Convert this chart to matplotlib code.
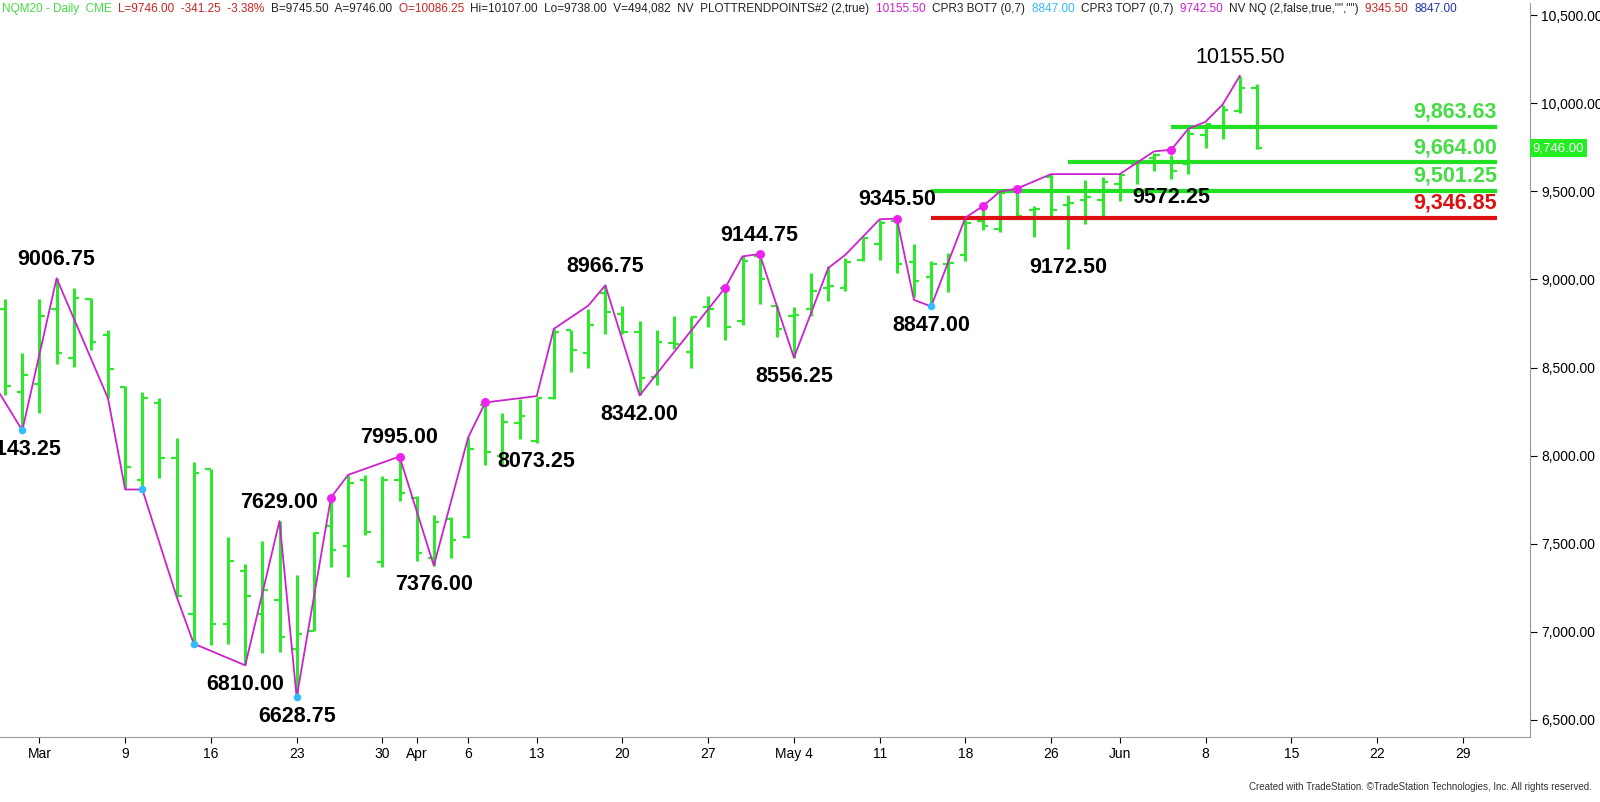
import matplotlib
matplotlib.use("Agg")
import matplotlib.pyplot as plt
import numpy as np
plt.rcParams['font.family'] = ['Liberation Sans', 'DejaVu Sans']

dates = ["Feb27","Feb28","Mar2","Mar3","Mar4","Mar5","Mar6","Mar9","Mar10","Mar11","Mar12","Mar13",
 "Mar16","Mar17","Mar18","Mar19","Mar20","Mar23","Mar24","Mar25","Mar26","Mar27","Mar30","Mar31",
 "Apr1","Apr2","Apr3","Apr6","Apr7","Apr8","Apr9","Apr13","Apr14","Apr15","Apr16","Apr17","Apr20",
 "Apr21","Apr22","Apr23","Apr24","Apr27","Apr28","Apr29","Apr30","May1","May4","May5","May6","May7",
 "May8","May11","May12","May13","May14","May15","May18","May19","May20","May21","May22","May26",
 "May27","May28","May29","Jun1","Jun2","Jun3","Jun4","Jun5","Jun8","Jun9","Jun10","Jun11"]
opens = [8832,8361,8408,8832,8555,8887,8684,8389,7864,8301,7984,7099,7923,7043,7348,7100,7182,6900,7007,7600,
 7486,7864,7394,7864,7762,7421,7640,7541,8290,8000,8188,8085,8328,8711,8580,8925,8804,8702,8449,8640,8590,
 8842,8954,8767,9131,8851,8795,8832,8954,8954,9112,9200,9333,9100,9012,9085,9140,9333,9287,9507,9397,9580,
 9424,9452,9452,9543,9653,9690,9736,9653,9818,9873,9956,10086.25]
highs = [8887,8583,8887,9006.75,8951,8896,8712,8395,8361,8328,8100,7965,7923,7541,7385,7514,7629,7320,7569,7762,
 7891,7891,7882,7995,7772,7661,7652,8104,8302,8244,8319,8328,8720,8711,8832,8966.75,8851,8767,8711,8795,8786,
 8907,8954,9131,9144.75,8851,8842,9038,9075,9121,9234,9335,9345.5,9204,9104,9149,9342,9415,9498,9516,9415,9598,
 9479,9562,9580,9598,9672,9718,9709,9855,9883,9993,10155.5,10107]
lows = [8343,8143.25,8242,8518,8505,8601,8325,7808,7808,7873,7200,6933,6924,6933,6810,6878,6887,6628.75,7007,7366,
 7311,7550,7366,7744,7403,7376,7421,7535,7945,7945,8095,8073.25,8319,8477,8496,8692,8692,8342,8403,8608,8496,
 8729,8655,8739,8860,8673,8556.25,8795,8879,8935,9103,9113,9039,8902,8847,8929,9104,9278,9269,9351,9241,9360,
 9172.5,9314,9360,9443,9543,9617,9572.25,9598,9745,9800,9947,9738]
closes = [8395,8457,8795,8583,8896,8644,8491,7937,8325,7989,7204,7901,7043,7403,7204,7237,6970,6990,7560,7467,
 7845,7569,7864,7790,7449,7624,7520,8039,8020,8190,8225,8328,8702,8599,8739,8814,8700,8440,8645,8635,8786,
 8832,8729,9103,9000,8720,8800,8935,8963,9100,9234,9320,9085,8994,9085,9094,9323,9305,9489,9360,9400,9397,
 9433,9470,9553,9595,9663,9709,9617,9828,9880,9960,10084,9746]

# trend (zigzag) points: (bar index, price)
zz_idx = [-0.3,1,3,6,7,8,10,11,14,16,17,19,20,23,25,27,28,31,32,34,35,37,42,43,44,46,48,49,51,52,53,54,56,57,58,59,61,65,67,68,69,70,71,72]
zz_val = [8350,8143.25,9006.75,8325,7808,7808,7200,6933,6810,7629,6628.75,7762,7891,7995,7376,8103,8302,8338,8720,8851,8966.75,
 8342,8954,9131,9144.75,8556.25,9065,9140,9342,9345.5,8884,8847,9351,9415,9498,9516,9598,9598,9727,9736,9855,9895,9993,10155.5]
mag_dots = [19,23,28,42,44,52,57,59,68]
cyan_dots = [1,8,11,17,54]

lab_idx = [1,3,14,16,17,23,25,31,35,37,44,46,52,54,62,68,72]
lab_val = [8143.25,9006.75,6810,7629,6628.75,7995,7376,8073.25,8966.75,8342,9144.75,8556.25,9345.5,8847,9172.5,9572.25,10155.5]
lab_txt = ["8143.25","9006.75","6810.00","7629.00","6628.75","7995.00","7376.00","8073.25","8966.75","8342.00",
           "9144.75","8556.25","9345.50","8847.00","9172.50","9572.25","10155.50"]
lab_up = [False,True,False,True,False,True,False,False,True,False,True,False,True,False,False,False,True]

levels = [9863.63,9664.00,9501.25,9346.85]
level_start = [68,62,54,54]
level_color = ["#22e022","#22e022","#22e022","#dd1111"]
level_txt_color = ["#44dd44","#44dd44","#44dd44","#dd1111"]

tick_pos = [2,7,12,17,22,24,27,31,36,41,46,51,56,61,65,70,75,80,85]
tick_lab = ["Mar","9","16","23","30","Apr","6","13","20","27","May 4","11","18","26","Jun","8","15","22","29"]
ytick = [6500,7000,7500,8000,8500,9000,9500,10000,10500]

fig = plt.figure(figsize=(16,8.02), dpi=100)
ax = fig.add_axes([0, 0.081, 0.956, 0.915])
x = np.arange(len(dates))
green = "#2ee82e"
ax.vlines(x, lows, highs, color=green, lw=2.2, zorder=2)
ax.hlines(opens, x-0.32, x, color=green, lw=1.6, zorder=2)
ax.hlines(closes, x, x+0.32, color=green, lw=1.6, zorder=2)

for lv, st, c, tc in zip(levels, level_start, level_color, level_txt_color):
    ax.hlines(lv, st, 87, color=c, lw=3, zorder=3)
    ax.text(87, lv+25, f"{lv:,.2f}", color=tc, fontsize=15.5, fontweight="bold", ha="right", va="bottom", zorder=4)

ax.plot(zz_idx, zz_val, color="#cc22cc", lw=1.3, zorder=4)
ax.scatter(mag_dots, [zz_val[zz_idx.index(i)] for i in mag_dots], s=30, color="#ee22ee", zorder=5)
ax.scatter(cyan_dots, [zz_val[zz_idx.index(i)] for i in cyan_dots], s=20, color="#33bbff", zorder=5)

for i, v, t, up in zip(lab_idx, lab_val, lab_txt, lab_up):
    w = "normal" if t == "10155.50" else "bold"
    ax.annotate(t, (i, v), xytext=(0, 6 if up else -6), textcoords="offset points",
                ha="center", va="bottom" if up else "top", fontsize=15.5, fontweight=w, zorder=6)

ax.set_xlim(-0.3, 88.9)
ax.set_ylim(6403, 10568)
ax.set_xticks(tick_pos)
ax.set_xticklabels(tick_lab, fontsize=10)
ax.tick_params(axis="x", length=4, direction="out")
ax.yaxis.tick_right()
ax.set_yticks(ytick)
ax.set_yticklabels([f"{v:,.2f}" for v in ytick], fontsize=10)
ax.tick_params(axis="y", length=5, direction="out")
for s in ["top","left"]:
    ax.spines[s].set_visible(False)
ax.spines["right"].set_color("#999999")
ax.spines["bottom"].set_color("#999999")

last = closes[-1]
ax.annotate(f"{last:,.2f}", xy=(1.0, last), xycoords=("axes fraction","data"), xytext=(2,0),
            textcoords="offset points", va="center", ha="left", fontsize=9.5, color="white",
            bbox=dict(boxstyle="square,pad=0.2", fc="#22ee22", ec="none"), annotation_clip=False)

segs = [("NQM20 - Daily  CME  ", "#44dd44"), ("L=9746.00  -341.25  -3.38%  ", "#cc2222"),
        ("B=9745.50  A=9746.00  ", "#222222"), ("O=10086.25  ", "#cc2222"),
        ("Hi=10107.00  Lo=9738.00  V=494,082  NV  PLOTTRENDPOINTS#2 (2,true)  ", "#222222"),
        ("10155.50  ", "#cc22cc"), ("CPR3 BOT7 (0,7)  ", "#222222"), ("8847.00  ", "#33bbff"),
        ("CPR3 TOP7 (0,7)  ", "#222222"), ("9742.50  ", "#cc22cc"), ('NV NQ (2,false,true,"","")  ', "#222222"),
        ("9345.50  ", "#cc2222"), ("8847.00", "#2233aa")]
fig.canvas.draw()
r = fig.canvas.get_renderer()
xp = 2
for s, c in segs:
    t = fig.text(xp/1600, 1-9/802, s, fontsize=8.5, color=c, va="center", ha="left")
    xp += t.get_window_extent(r).width
fig.text(0.995, 0.012, "Created with TradeStation. ©TradeStation Technologies, Inc. All rights reserved.",
         fontsize=7, ha="right", va="bottom", color="#333333")
fig.savefig("out.png", dpi=100)
